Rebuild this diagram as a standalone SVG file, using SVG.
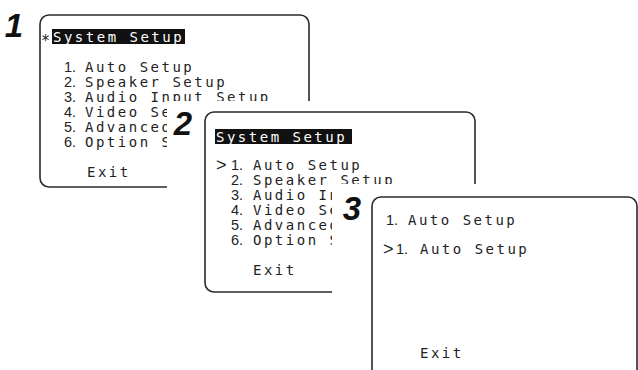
<svg xmlns="http://www.w3.org/2000/svg" width="638" height="370" viewBox="0 0 638 370">
<style>
.frame{fill:#fff;stroke:#2a2a2a;stroke-width:1.6}
.cover{fill:#fff;stroke:none}
.t{font-family:"DejaVu Sans Mono","Liberation Mono",monospace;font-size:14px;letter-spacing:2.5px;fill:#222}
.n{font-family:"Liberation Sans",Arial,sans-serif;font-size:14.5px;fill:#222}
.gt{font-family:"Liberation Sans",Arial,sans-serif;font-size:18px;fill:#222}
.ast{font-family:"DejaVu Sans Mono",monospace;font-size:15px;fill:#222}
.hl{fill:#111}
.w{fill:#fff}
.lbl{font-family:"Liberation Sans",Arial,sans-serif;font-size:33px;font-weight:bold;font-style:italic;fill:#111;text-anchor:middle}
</style>
<rect width="638" height="370" fill="#fff"/>
<g id="step1">
  <text class="lbl" x="14" y="37">1</text>
  <rect class="frame" x="40" y="15" width="269" height="172" rx="9"/>
  <text class="ast" x="41" y="46">*</text>
  <rect class="hl" x="52" y="29" width="133" height="15"/>
  <text class="t w" x="53" y="42">System Setup</text>
  <text class="n" x="64" y="72">1.</text><text class="t" x="85" y="72">Auto Setup</text>
  <text class="n" x="64" y="87">2.</text><text class="t" x="85" y="87">Speaker Setup</text>
  <text class="n" x="64" y="102">3.</text><text class="t" x="85" y="102">Audio Input Setup</text>
  <text class="n" x="64" y="117">4.</text><text class="t" x="85" y="117">Video Se</text>
  <text class="n" x="64" y="132">5.</text><text class="t" x="85" y="132">Advanced</text>
  <text class="n" x="64" y="147">6.</text><text class="t" x="85" y="147">Option S</text>
  <text class="t" x="87" y="177">Exit</text>
</g>
<g id="step2">
  <rect class="cover" x="167" y="101" width="480" height="280"/>
  <text class="lbl" x="183" y="135">2</text>
  <rect class="frame" x="205" y="112" width="270" height="180" rx="9"/>
  <rect class="hl" x="215" y="129" width="137" height="15"/>
  <text class="t w" x="216" y="142">System Setup</text>
  <text class="gt" x="216" y="171">&gt;</text>
  <text class="n" x="231" y="170">1.</text><text class="t" x="253" y="170">Auto Setup</text>
  <text class="n" x="231" y="185">2.</text><text class="t" x="253" y="185">Speaker Setup</text>
  <text class="n" x="231" y="200">3.</text><text class="t" x="253" y="200">Audio In</text>
  <text class="n" x="231" y="215">4.</text><text class="t" x="253" y="215">Video Se</text>
  <text class="n" x="231" y="230">5.</text><text class="t" x="253" y="230">Advanced</text>
  <text class="n" x="231" y="245">6.</text><text class="t" x="253" y="245">Option S</text>
  <text class="t" x="253" y="275">Exit</text>
</g>
<g id="step3">
  <rect class="cover" x="332" y="184" width="320" height="200"/>
  <text class="lbl" x="352" y="220">3</text>
  <rect class="frame" x="372" y="197" width="265" height="200" rx="9"/>
  <text class="n" x="386" y="225">1.</text><text class="t" x="408" y="225">Auto Setup</text>
  <text class="gt" x="383" y="255">&gt;</text>
  <text class="n" x="396" y="254">1.</text><text class="t" x="420" y="254">Auto Setup</text>
  <text class="t" x="420" y="358">Exit</text>
</g>
<g id="connectors"></g>
</svg>
